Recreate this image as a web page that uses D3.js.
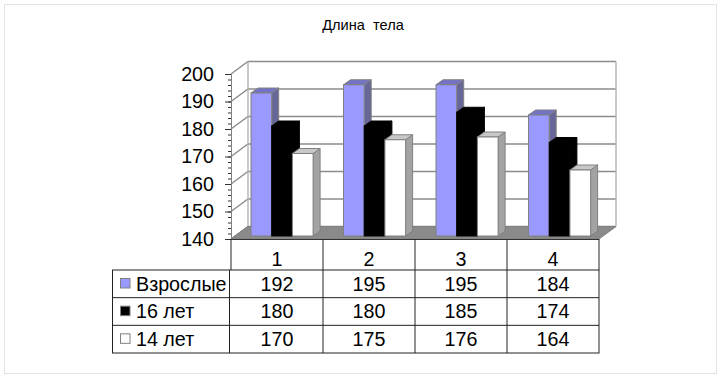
<!DOCTYPE html>
<html>
<head>
<meta charset="utf-8">
<script src="https://cdn.jsdelivr.net/npm/d3@7"></script>
<style>
  html, body { margin: 0; padding: 0; background: #fff; }
  svg { display: block; font-family: "Liberation Sans", Arial, sans-serif; }
</style>
</head>
<body>
<svg width="723" height="380"></svg>
<script>
const categories = ['1', '2', '3', '4']
const seriesNames = ['Взрослые', '16 лет', '14 лет']
const adults = [192, 195, 195, 184]
const age16 = [180, 180, 185, 174]
const age14 = [170, 175, 176, 164]
const yTicks = [140, 150, 160, 170, 180, 190, 200]
const yMinorTicks = d3.range(140, 201, 2)

const seriesValues = [adults, age16, age14]
const colors = [
  { front: '#9999ff', side: '#666699', top: '#7373c6', stroke: '#808080' },
  { front: '#000000', side: '#000000', top: '#000000', stroke: '#000000' },
  { front: '#ffffff', side: '#a3a3a3', top: '#c8c8c8', stroke: '#808080' },
]

const svg = d3.select('svg')

// outer frame
svg.append('rect')
  .attr('x', 4.5).attr('y', 4.5).attr('width', 712).attr('height', 369)
  .attr('fill', '#fff').attr('stroke', '#e2e2e2')

svg.append('text')
  .attr('x', 363).attr('y', 30)
  .attr('text-anchor', 'middle')
  .attr('font-size', 14.6)
  .style('white-space', 'pre')
  .text('Длина  тела')

// scales: front of the box, and the plane the bars stand on
const x = d3.scaleBand().domain(categories).range([231, 599])
const xBar = d3.scaleBand().domain(categories).range([231, 601])
const yFront = d3.scaleLinear().domain([140, 200]).range([239, 74])
const yBar = d3.scaleLinear().domain([140, 200]).range([236, 71])
const depthX = 17, depthY = -12.5

const poly = (g, pts, fill, stroke) =>
  g.append('polygon')
    .attr('points', pts.map((p) => p.join(',')).join(' '))
    .attr('fill', fill)
    .attr('stroke', stroke || 'none')

// walls and floor
const box = svg.append('g')
const x0 = x.range()[0], x1 = x.range()[1]

yTicks.forEach((t) => {
  box.append('path')
    .attr('d', `M${x0},${yFront(t)}L${x0 + depthX},${yFront(t) + depthY}L${x1 + depthX},${yFront(t) + depthY}`)
    .attr('fill', 'none')
    .attr('stroke', '#8c8c8c')
    .attr('stroke-width', 1.4)
})
box.append('path')
  .attr('d', `M${x0 + depthX},${yFront(140) + depthY}V${yFront(200) + depthY}`)
  .attr('stroke', '#b4b4b4').attr('stroke-width', 1.4)
box.append('path')
  .attr('d', `M${x1 + depthX},${yFront(140) + depthY}V${yFront(200) + depthY}`)
  .attr('stroke', '#b4b4b4').attr('stroke-width', 1.4)
poly(box, [[x0, yFront(140)], [x1, yFront(140)], [x1 + depthX, yFront(140) + depthY], [x0 + depthX, yFront(140) + depthY]], '#8a8a8a', '#808080')

// bars, painted left to right so each one covers the side of the previous
const barW = 20.7
const barsOffset = 20
categories.forEach((c, i) => {
  const g = svg.append('g')
  seriesValues.forEach((vals, s) => {
    const v = vals[i]
    const left = xBar(c) + barsOffset + s * barW
    const right = left + barW
    const top = yBar(v), bottom = yBar(140)
    const col = colors[s]
    poly(g, [[right, top], [right + 7, top - 5], [right + 7, bottom - 5], [right, bottom]], col.side, col.stroke)
    poly(g, [[left, top], [left + 7, top - 5], [right + 7, top - 5], [right, top]], col.top, col.stroke)
    g.append('rect')
      .attr('x', left).attr('y', top)
      .attr('width', barW).attr('height', bottom - top)
      .attr('fill', col.front).attr('stroke', col.stroke)
  })
})

// y axis with minor ticks
const axisG = svg.append('g').attr('transform', `translate(${x0},0)`)
axisG.call(d3.axisLeft(yFront).tickValues(yMinorTicks).tickSize(3).tickFormat(''))
axisG.selectAll('.tick line').attr('stroke', '#333')
axisG.select('.domain').attr('stroke', '#808080')
const majorG = svg.append('g').attr('transform', `translate(${x0},0)`)
majorG.call(d3.axisLeft(yFront).tickValues(yTicks).tickSize(6).tickPadding(11).tickFormat(d3.format('d')))
majorG.select('.domain').remove()
majorG.selectAll('.tick line').attr('stroke', '#333')
majorG.selectAll('text').attr('font-size', 19.7).attr('font-family', '"Liberation Sans", Arial, sans-serif').attr('fill', '#000')

// category band: ticks down to the table, labels between them
const bandG = svg.append('g')
bandG.append('line')
  .attr('x1', x0).attr('x2', x1).attr('y1', 239.5).attr('y2', 239.5).attr('stroke', '#333')
;[...categories.map((c) => x(c)), x1].forEach((px) => {
  bandG.append('line')
    .attr('x1', px).attr('x2', px).attr('y1', 239).attr('y2', 270).attr('stroke', '#222')
})
bandG.selectAll('text').data(categories).join('text')
  .attr('x', (d) => x(d) + x.bandwidth() / 2)
  .attr('y', 265.5)
  .attr('text-anchor', 'middle')
  .attr('font-size', 19.7)
  .text((d) => d)

// data table
const rowY = d3.scaleBand().domain(seriesNames).range([270, 353])
const tableLeft = 113, tableKeyRight = 229.5
const table = svg.append('g')
table.append('rect')
  .attr('x', tableLeft - 0.5).attr('y', 270)
  .attr('width', x1 - tableLeft + 0.5).attr('height', 83)
  .attr('fill', 'none').attr('stroke', '#222')
seriesNames.forEach((n, s) => {
  const y = rowY(n)
  if (s > 0) {
    table.append('line')
      .attr('x1', tableLeft).attr('x2', x1).attr('y1', y).attr('y2', y).attr('stroke', '#222')
  }
  table.append('rect')
    .attr('x', 120.5).attr('y', y + 8.5).attr('width', 9.5).attr('height', 9.5)
    .attr('fill', colors[s].front).attr('stroke', '#808080')
  table.append('text')
    .attr('x', 136).attr('y', y + 20.5)
    .attr('font-size', 19.7)
    .text(n)
  categories.forEach((c, i) => {
    table.append('text')
      .attr('x', x(c) + x.bandwidth() / 2)
      .attr('y', y + 20.5)
      .attr('text-anchor', 'middle')
      .attr('font-size', 19.7)
      .text(seriesValues[s][i])
  })
})
table.append('line')
  .attr('x1', tableKeyRight).attr('x2', tableKeyRight).attr('y1', 270).attr('y2', 353).attr('stroke', '#222')
categories.slice(1).forEach((c) => {
  table.append('line')
    .attr('x1', x(c)).attr('x2', x(c)).attr('y1', 270).attr('y2', 353).attr('stroke', '#222')
})
</script>
</body>
</html>
